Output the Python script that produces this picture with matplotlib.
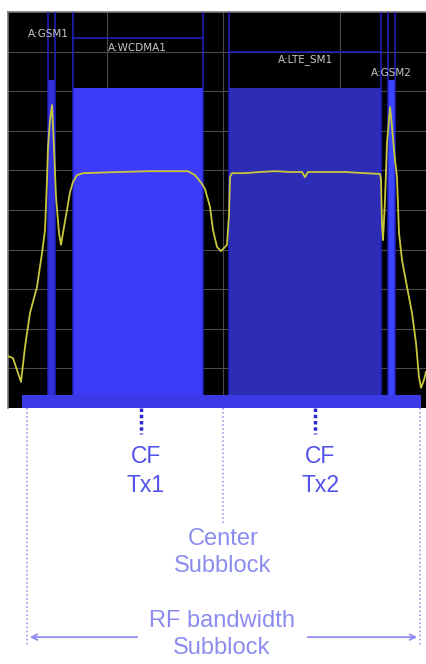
import matplotlib.pyplot as plt

# ==========================
# Data (frequency in MHz, level in dBm)
# ==========================
trace_freq = [0.0, 0.5, 0.9, 1.3, 1.7, 2.2, 2.9, 3.4, 3.7, 3.9, 4.0, 4.2, 4.4,
              4.6, 4.8, 5.1, 5.3, 5.6, 5.9, 6.2, 6.5, 6.9, 7.5, 11.2, 14.2,
              18.0, 18.7, 19.4, 19.7, 20.2, 20.5, 20.9, 21.3, 21.9, 22.1, 22.2,
              22.4, 23.7, 25.2, 26.7, 28.2, 29.4, 29.7, 30.0, 31.7, 33.7, 35.7,
              37.2, 37.3, 37.4, 37.5, 37.7, 37.9, 38.2, 38.4, 38.7, 38.9, 39.1,
              39.4, 39.9, 40.4, 40.8, 41.1, 41.3, 41.6, 41.8]
trace_level = [-96.9, -97.4, -100.4, -103.4, -94.6, -86.0, -79.4, -70.9, -65.1,
               -52.4, -44.1, -37.3, -33.5, -44.1, -56.7, -65.8, -68.8, -64.3,
               -60.0, -55.5, -52.9, -51.2, -50.7, -50.4, -50.2, -50.2, -51.2,
               -53.4, -54.7, -59.2, -65.1, -69.3, -70.4, -68.8, -61.3, -51.7,
               -50.7, -50.7, -50.4, -50.2, -50.4, -50.4, -51.7, -50.4, -50.4,
               -50.4, -50.7, -50.9, -52.4, -63.8, -67.6, -57.5, -43.1, -34.0,
               -39.0, -47.4, -51.7, -65.8, -72.6, -79.4, -86.0, -93.6, -102.2,
               -104.9, -102.9, -100.9]

channel_names = ["A:GSM1", "A:WCDMA1", "A:LTE_SM1", "A:GSM2"]
channel_start = [4.0, 6.5, 22.1, 38.0]
channel_stop = [4.7, 19.5, 37.3, 38.7]
channel_top = [-27.2, -29.2, -29.2, -27.2]
channel_colors = ["#3030dc", "#3c3cf8", "#2c2cb4", "#3a46ff"]
label_freq = [4.0, 12.9, 29.7, 38.3]
label_level = [-15.6, -19.1, -22.1, -25.4]
box_level = [None, -16.6, -20.1, None]

level_grid = [-20, -30, -40, -50, -60, -70, -80, -90, -100]
freq_grid = [9.9, 21.5, 33.2]

subblock_edges = [1.9, 41.2]
subblock_center = 21.5
cf_freq = [13.3, 30.7]
cf_labels = ["CF\nTx1", "CF\nTx2"]

# ==========================
# Figure
# ==========================
fig = plt.figure(figsize=(4.26, 6.64), dpi=100)
fig.patch.set_facecolor("white")

ax = fig.add_axes([8 / 426, 256 / 664, 418 / 426, 396 / 664])
ax.set_facecolor("black")
ax.set_xlim(0, 41.8)
ax.set_ylim(-110, -10)
ax.set_yticks(level_grid)
ax.set_xticks(freq_grid)
ax.tick_params(length=0, labelleft=False, labelbottom=False)
ax.grid(color="#4a4a4a", linewidth=0.8)
ax.set_axisbelow(True)
for side in ["right", "bottom"]:
    ax.spines[side].set_visible(False)
for side in ["left", "top"]:
    ax.spines[side].set_color("#7a7a7a")
    ax.spines[side].set_linewidth(1.2)

# channel blocks
for i in range(len(channel_names)):
    ax.fill_between([channel_start[i], channel_stop[i]], -110, channel_top[i],
                    color=channel_colors[i], linewidth=0, zorder=2)
    for f in [channel_start[i], channel_stop[i]]:
        ax.axvline(f, color="#2222c8", linewidth=1.1, zorder=3)
    if box_level[i] is not None:
        ax.plot([channel_start[i], channel_stop[i]], [box_level[i]] * 2,
                color="#2222c8", linewidth=1.1, zorder=3)
    ax.text(label_freq[i], label_level[i], channel_names[i], color="#c8c8c8",
            fontsize=7.5, ha="center", va="center", zorder=5)

# subblock bar at the bottom
ax.fill_between([1.4, 41.3], -110, -106.7, color="#3a3ae6", linewidth=0, zorder=4)

# spectrum trace
ax.plot(trace_freq, trace_level, color="#c8c83c", linewidth=1.3, zorder=6)

# ==========================
# Annotations below the display
# ==========================
ax2 = fig.add_axes([8 / 426, 0, 418 / 426, 256 / 664])
ax2.set_xlim(0, 41.8)
ax2.set_ylim(0, 1)
ax2.axis("off")

light = "#8c8cf0"
for f in subblock_edges:
    ax2.plot([f, f], [1.0, 0.07], color=light, linewidth=1.1, linestyle=":")
ax2.plot([subblock_center] * 2, [1.0, 0.55], color=light, linewidth=1.1, linestyle=":")

for f, lab in zip(cf_freq, cf_labels):
    ax2.plot([f, f], [1.0, 0.9], color="#2a2ad0", linewidth=2.5,
             linestyle=(0, (1, 0.8)))
    ax2.text(f + 0.5, 0.755, lab, color="#5050ea", fontsize=16.5,
             family="Liberation Sans", ha="center", va="center", linespacing=1.35)

ax2.text(subblock_center, 0.435, "Center\nSubblock", color=light, fontsize=17,
         family="Liberation Sans", ha="center", va="center", linespacing=1.3)
ax2.text(subblock_center - 0.1, 0.115, "RF bandwidth\nSubblock", color=light,
         fontsize=17, family="Liberation Sans", ha="center", va="center",
         linespacing=1.3)

ax2.annotate("", xy=(subblock_edges[0], 0.105), xytext=(13.2, 0.105),
             arrowprops=dict(arrowstyle="->", color=light, lw=1.3))
ax2.annotate("", xy=(subblock_edges[1], 0.105), xytext=(29.7, 0.105),
             arrowprops=dict(arrowstyle="->", color=light, lw=1.3))

plt.savefig("out.png", dpi=100)
plt.close()
